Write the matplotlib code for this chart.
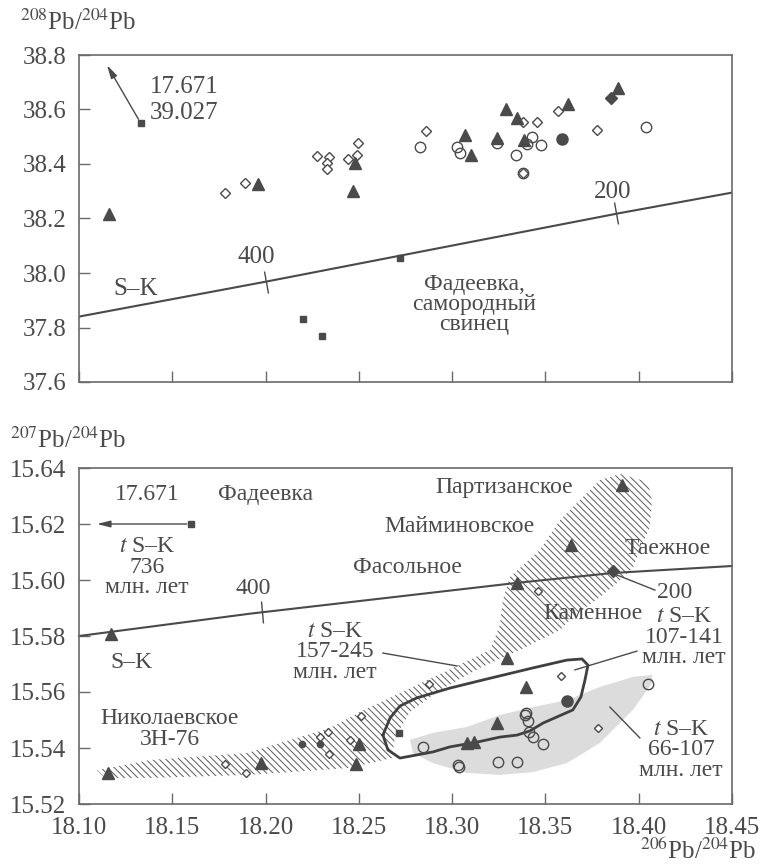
import matplotlib
matplotlib.use('Agg')
import matplotlib.pyplot as plt
from matplotlib.markers import MarkerStyle
from matplotlib.transforms import Affine2D

plt.rcParams['font.family'] = ['Liberation Serif', 'DejaVu Serif']
plt.rcParams['mathtext.fontset'] = 'stix'
plt.rcParams['hatch.linewidth'] = 0.7

INK = '#4a4a4a'
FRAME = '#6a6a6a'

# ---------------- upper panel: 208Pb/204Pb vs 206Pb/204Pb ----------------
top_tri_x = [18.116, 18.196, 18.248, 18.247, 18.307, 18.310, 18.324, 18.329, 18.335, 18.3385, 18.362, 18.389]
top_tri_y = [38.218, 38.328, 38.405, 38.302, 38.507, 38.434, 38.496, 38.602, 38.569, 38.489, 38.620, 38.680]

top_dia_x = [18.178, 18.189, 18.2275, 18.234, 18.233, 18.233, 18.244, 18.249, 18.2495, 18.286, 18.338, 18.3455, 18.357, 18.3775, 18.338]
top_dia_y = [38.295, 38.332, 38.430, 38.427, 38.405, 38.383, 38.420, 38.434, 38.478, 38.520, 38.555, 38.555, 38.595, 38.526, 38.368]

top_circ_x = [18.283, 18.3026, 18.304, 18.324, 18.334, 18.340, 18.343, 18.3475, 18.338, 18.404]
top_circ_y = [38.463, 38.463, 38.441, 38.478, 38.434, 38.474, 38.500, 38.471, 38.368, 38.537]

top_fcirc_x, top_fcirc_y = [18.359], [38.493]
top_fdia_x, top_fdia_y = [18.385], [38.643]

top_sq_x = [18.133, 18.220, 18.230, 18.272]
top_sq_y = [38.551, 37.830, 37.770, 38.055]
top_arrow_tip = (18.115, 38.763)

sk_top_x = [18.10, 18.20, 18.39, 18.45]
sk_top_y = [37.840, 37.968, 38.220, 38.295]
sk_top_age_x = [18.200, 18.388]
sk_top_age_y = [37.968, 38.222]

top_yticks = [37.6, 37.8, 38.0, 38.2, 38.4, 38.6, 38.8]

# ---------------- lower panel: 207Pb/204Pb vs 206Pb/204Pb ----------------
bot_tri_x = [18.117, 18.1157, 18.1975, 18.250, 18.2485, 18.3294, 18.3395, 18.324, 18.308, 18.3117, 18.391, 18.3635, 18.3347]
bot_tri_y = [15.5807, 15.531, 15.5346, 15.5414, 15.5343, 15.572, 15.5618, 15.549, 15.5418, 15.5421, 15.634, 15.6125, 15.599]

bot_dia_x = [18.178, 18.1895, 18.2335, 18.234, 18.2453, 18.251, 18.2876, 18.346, 18.3583, 18.378, 18.229]
bot_dia_y = [15.5343, 15.531, 15.5457, 15.538, 15.543, 15.5514, 15.5629, 15.596, 15.5657, 15.5471, 15.5440]

bot_circ_x = [18.2843, 18.3031, 18.3036, 18.3245, 18.3347, 18.339, 18.3395, 18.3406, 18.341, 18.3433, 18.3487, 18.405]
bot_circ_y = [15.5404, 15.534, 15.5332, 15.535, 15.535, 15.5518, 15.5525, 15.5496, 15.5457, 15.544, 15.5414, 15.5629]

bot_fcirc_x, bot_fcirc_y = [18.3615], [15.5568]
bot_dot_x, bot_dot_y = [18.2195, 18.229], [15.5414, 15.5414]
bot_fdia_x, bot_fdia_y = [18.386], [15.6032]

bot_sq_x = [18.160, 18.2715]
bot_sq_y = [15.620, 15.5454]
bot_arrow_tip = (18.1096, 15.620)

sk_bot_x = [18.10, 18.192, 18.335, 18.386, 18.45]
sk_bot_y = [15.580, 15.588, 15.599, 15.6025, 15.605]

# field outlines
hatch_x = [18.1096, 18.138, 18.190, 18.2093, 18.2345, 18.2506, 18.272, 18.3026, 18.3203, 18.3256,
           18.3272, 18.331, 18.347, 18.3578, 18.3792, 18.3899, 18.4049, 18.4071, 18.406, 18.4006,
           18.3969, 18.3872, 18.3792, 18.3647, 18.3578, 18.3363, 18.3149, 18.2935, 18.2774, 18.2693,
           18.2677, 18.2452, 18.1916, 18.138, 18.1139]
hatch_y = [15.5321, 15.5357, 15.5382, 15.5421, 15.5471, 15.5529, 15.5596, 15.5693, 15.575, 15.5839,
           15.5929, 15.6011, 15.6107, 15.6214, 15.6357, 15.6379, 15.635, 15.6286, 15.6189, 15.6107,
           15.6043, 15.5982, 15.5939, 15.5868, 15.5821, 15.575, 15.5686, 15.5607, 15.5529, 15.5436,
           15.5364, 15.5329, 15.5304, 15.5293, 15.5293]

gray_x = [18.2774, 18.279, 18.2897, 18.3079, 18.3256, 18.3433, 18.3615, 18.3792, 18.3969, 18.4076,
          18.4071, 18.3969, 18.3792, 18.3615, 18.3433, 18.3256, 18.3079, 18.2897]
gray_y = [15.5429, 15.5382, 15.5346, 15.5311, 15.5304, 15.5314, 15.5346, 15.5418, 15.5536, 15.5636,
          15.5661, 15.5654, 15.5618, 15.5571, 15.5546, 15.5518, 15.5475, 15.5454]

cont_x = [18.2629, 18.2667, 18.272, 18.2811, 18.2988, 18.3165, 18.3433, 18.3615, 18.3696, 18.3728,
          18.3712, 18.369, 18.3647, 18.3487, 18.3417, 18.3347, 18.3256, 18.3133, 18.2988, 18.2897,
          18.272, 18.2656, 18.2629]
cont_y = [15.5446, 15.5507, 15.555, 15.5579, 15.5614, 15.5643, 15.5686, 15.5714, 15.5718, 15.5696,
          15.5643, 15.5582, 15.5536, 15.5489, 15.5461, 15.5446, 15.5439, 15.5421, 15.5404, 15.5386,
          15.5364, 15.5393, 15.5446]

bot_xticks = [18.10, 18.15, 18.20, 18.25, 18.30, 18.35, 18.40, 18.45]
bot_yticks = [15.52, 15.54, 15.56, 15.58, 15.60, 15.62, 15.64]


def style_axes(ax):
    for s in ax.spines.values():
        s.set_color(FRAME)
        s.set_linewidth(1.2)
    ax.tick_params(direction='in', length=8, width=1, color=FRAME, labelsize=18,
                   labelcolor=INK, top=False, right=False, pad=9)


def tick_marker(angle):
    return MarkerStyle('|', transform=Affine2D().rotate_deg(angle))


fig = plt.figure(figsize=(7.62, 8.66), dpi=100)
ax1 = fig.add_axes([79 / 762, 1 - 382 / 866, 653 / 762, 327 / 866])
ax2 = fig.add_axes([79 / 762, 1 - 804 / 866, 653 / 762, 336 / 866])

# ---- upper panel ----
ax1.plot(sk_top_x, sk_top_y, color=INK, lw=1.5, zorder=2)
ax1.plot(sk_top_age_x, sk_top_age_y, ls='none', marker=tick_marker(11), ms=16, mew=1, color=INK)
ax1.plot(top_dia_x, top_dia_y, 'D', ms=5.5, mfc='white', mec=INK, mew=1, zorder=3)
ax1.plot(top_circ_x, top_circ_y, 'o', ms=7.5, mfc='none', mec=INK, mew=1, zorder=3)
ax1.plot(top_tri_x, top_tri_y, '^', ms=8, color=INK, zorder=4)
ax1.plot(top_fcirc_x, top_fcirc_y, 'o', ms=8, color=INK, zorder=4)
ax1.plot(top_fdia_x, top_fdia_y, 'D', ms=6, color=INK, zorder=4)
ax1.plot(top_sq_x, top_sq_y, 's', ms=4, color=INK, zorder=4)
ax1.annotate('', xy=top_arrow_tip, xytext=(top_sq_x[0], top_sq_y[0]),
             arrowprops=dict(arrowstyle='-|>,head_length=0.8,head_width=0.2', color=INK, lw=1,
                             shrinkA=3, shrinkB=0))

ax1.text(18.138, 38.683, '17.671', fontsize=18, color=INK, ha='left', va='center')
ax1.text(18.138, 38.588, '39.027', fontsize=18, color=INK, ha='left', va='center')
ax1.text(18.195, 38.057, '400', fontsize=18, color=INK, ha='center', va='center')
ax1.text(18.386, 38.299, '200', fontsize=18, color=INK, ha='center', va='center')
ax1.text(18.1305, 37.94, 'S–K', fontsize=18, color=INK, ha='center', va='center')
ax1.text(18.312, 37.885, 'Фадеевка,\nсамородный\nсвинец', fontsize=17, color=INK,
         ha='center', va='center', linespacing=0.95)

ax1.set_xlim(18.10, 18.45)
ax1.set_ylim(37.6, 38.8)
ax1.set_xticks(bot_xticks)
ax1.set_xticklabels([])
ax1.set_yticks(top_yticks)
ax1.set_yticklabels(['%.1f' % v for v in top_yticks])
style_axes(ax1)

# ---- lower panel ----
ax2.fill(gray_x, gray_y, color='#dcdcdc', lw=0, zorder=0)
ax2.fill(hatch_x, hatch_y, facecolor='none', edgecolor='#5a5a5a', lw=0, hatch='\\' * 5, zorder=1)
ax2.plot(cont_x, cont_y, color='#404040', lw=2, solid_joinstyle='round', zorder=2)
ax2.plot(sk_bot_x, sk_bot_y, color=INK, lw=1.5, zorder=2, clip_on=False)
ax2.plot([18.198], [15.5886], ls='none', marker=tick_marker(6), ms=16, mew=1, color=INK)

ax2.plot(bot_circ_x, bot_circ_y, 'o', ms=7.5, mfc='none', mec=INK, mew=1, zorder=3)
ax2.plot(bot_dia_x, bot_dia_y, 'D', ms=4, mfc='white', mec=INK, mew=1, zorder=3)
ax2.plot(bot_tri_x, bot_tri_y, '^', ms=8, color=INK, zorder=4)
ax2.plot(bot_fcirc_x, bot_fcirc_y, 'o', ms=8, color=INK, zorder=4)
ax2.plot(bot_dot_x, bot_dot_y, 'o', ms=4.5, color=INK, zorder=4)
ax2.plot(bot_fdia_x, bot_fdia_y, 'D', ms=6, color=INK, zorder=4)
ax2.plot(bot_sq_x, bot_sq_y, 's', ms=4, color=INK, zorder=4)
ax2.annotate('', xy=bot_arrow_tip, xytext=(bot_sq_x[0], bot_sq_y[0]),
             arrowprops=dict(arrowstyle='-|>,head_length=0.8,head_width=0.2', color=INK, lw=1,
                             shrinkA=3, shrinkB=0))

# leader lines
ax2.plot([18.2629, 18.3026], [15.5739, 15.5693], color=INK, lw=1)
ax2.plot([18.399, 18.3658], [15.5746, 15.5679], color=INK, lw=1)
ax2.plot([18.4006, 18.3846], [15.5436, 15.5546], color=INK, lw=1)
ax2.plot([18.3883, 18.4087], [15.6018, 15.5964], color=INK, lw=1)

kw = dict(fontsize=17, color=INK, ha='center', va='center')
ax2.text(18.1364, 15.6304, '17.671', **kw)
ax2.text(18.1364, 15.6046, '$t$ S–K\n736\nмлн. лет', linespacing=0.95, **kw)
ax2.text(18.1997, 15.6304, 'Фадеевка', **kw)
ax2.text(18.3278, 15.6329, 'Партизанское', **kw)
ax2.text(18.304, 15.619, 'Майминовское', **kw)
ax2.text(18.2758, 15.6046, 'Фасольное', **kw)
ax2.text(18.4157, 15.6114, 'Таежное', **kw)
ax2.text(18.4194, 15.5957, '200', **kw)
ax2.text(18.1932, 15.5971, '400', **kw)
ax2.text(18.3755, 15.5882, 'Каменное', **kw)
ax2.text(18.4242, 15.5796, '$t$ S–K\n107-141\nмлн. лет', linespacing=0.95, **kw)
ax2.text(18.2372, 15.5743, '$t$ S–K\n157-245\nмлн. лет', linespacing=0.95, **kw)
ax2.text(18.4226, 15.5393, '$t$ S–K\n66-107\nмлн. лет', linespacing=0.95, **kw)
ax2.text(18.1279, 15.5707, 'S–K', **kw)
ax2.text(18.1488, 15.5468, 'Николаевское\n3Н-76', linespacing=0.95, **kw)

ax2.set_xlim(18.10, 18.45)
ax2.set_ylim(15.52, 15.64)
ax2.set_xticks(bot_xticks)
ax2.set_xticklabels(['%.2f' % v for v in bot_xticks])
ax2.set_yticks(bot_yticks)
ax2.set_yticklabels(['%.2f' % v for v in bot_yticks])
style_axes(ax2)

fig.text(20 / 762, 1 - 22 / 866, r'$^{208}$Pb/$^{204}$Pb', fontsize=18, color=INK, ha='left', va='center')
fig.text(10 / 762, 1 - 440 / 866, r'$^{207}$Pb/$^{204}$Pb', fontsize=18, color=INK, ha='left', va='center')
fig.text(756 / 762, 2 / 866, r'$^{206}$Pb/$^{204}$Pb', fontsize=18, color=INK, ha='right', va='bottom')

fig.savefig('out.png', dpi=100)
